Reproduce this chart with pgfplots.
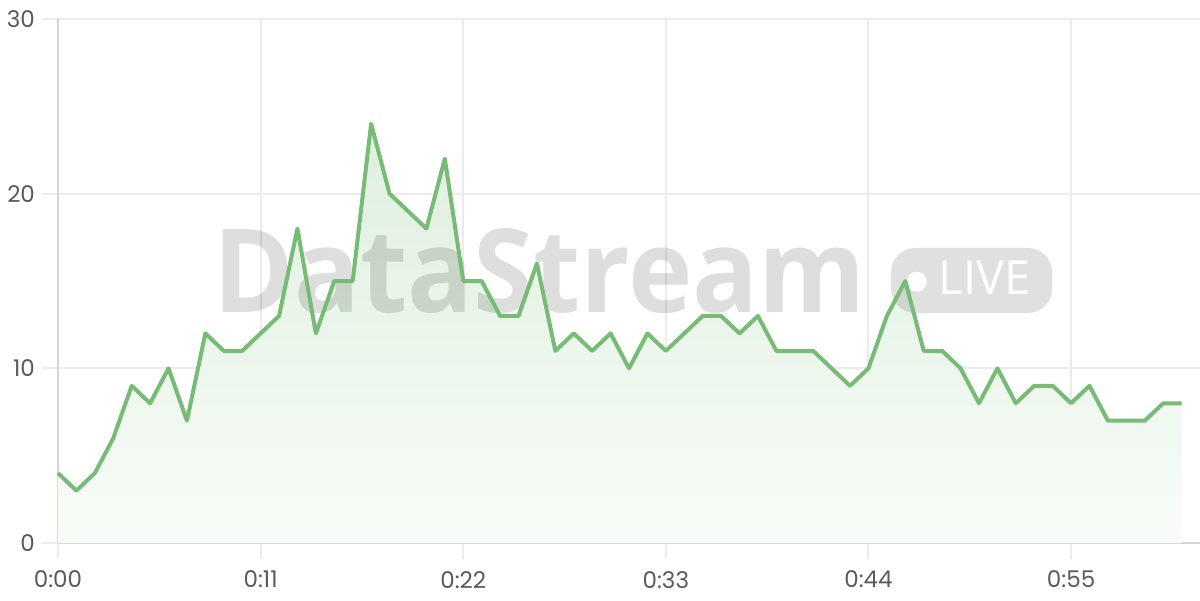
\documentclass[border=0pt]{standalone}
\usepackage{fontspec}
\setmainfont{Poppins}
\newfontfamily\wmfont{Open Sans}
\usepackage{pgfplots}
\usepackage{pgfplotstable}
\pgfplotsset{compat=1.18}
\usetikzlibrary{calc}
\definecolor{linegreen}{RGB}{119,187,119}
\definecolor{filltop}{RGB}{222,239,222}
\definecolor{fillbot}{RGB}{248,252,248}
\definecolor{gridc}{RGB}{235,235,235}
\definecolor{axisc}{RGB}{212,212,212}
\definecolor{labc}{RGB}{90,90,90}
\pgfplotstableread{
x y
0 4
1 3
2 4
3 6
4 9
5 8
6 10
7 7
8 12
9 11
10 11
11 12
12 13
13 18
14 12
15 15
16 15
17 24
18 20
19 19
20 18
21 22
22 15
23 15
24 13
25 13
26 16
27 11
28 12
29 11
30 12
31 10
32 12
33 11
34 12
35 13
36 13
37 12
38 13
39 11
40 11
41 11
42 10
43 9
44 10
45 13
46 15
47 11
48 11
49 10
50 8
51 10
52 8
53 9
54 9
55 8
56 9
57 7
58 7
59 7
60 8
61 8
}\datatable
\begin{document}
\begin{tikzpicture}
\begin{axis}[
  scale only axis, width=571pt, height=262pt,
  xmin=0, xmax=62, ymin=0, ymax=30,
  axis x line=bottom, axis y line=left,
  axis line style={-, draw=axisc, line width=1pt},
  xtick={0,11,22,33,44,55},
  xticklabels={0:00,0:11,0:22,0:33,0:44,0:55},
  ytick={0,10,20,30},
  grid=major, major grid style={draw=gridc, line width=1pt},
  tick align=outside, major tick length=8pt,
  tick style={draw=gridc, line width=1pt},
  ticklabel style={font=\fontsize{11.5}{13}\selectfont, text=labc},
  xticklabel style={yshift=-2.5pt},
  /pgf/number format/assume math mode=true,
  clip=false,
]
\addplot[draw=none, top color=filltop, bottom color=fillbot] table[x=x,y=y] {\datatable} \closedcycle;
\node[anchor=base, inner sep=0pt, text=black, opacity=0.13,
  font=\wmfont\bfseries\fontsize{58}{58}\selectfont] at (axis cs:26.14,13.17) {\scalebox{0.94}[1]{DataStream}};
\node[fill=black, fill opacity=0.12, rounded corners=12pt, minimum width=80.5pt,
  minimum height=32.5pt, inner sep=0pt] at (axis cs:49.6,15.03) {};
\fill[white] (axis cs:46.62,14.96) circle (5pt);
\node[anchor=base west, inner sep=0pt, text=white,
  font=\wmfont\fontsize{23.5}{24}\selectfont] at (axis cs:47.79,14.2) {LIVE};
\addplot[linegreen, line width=2pt, line join=round] table[x=x,y=y] {\datatable};
\end{axis}
\pgfresetboundingbox
\path[use as bounding box] ($(current axis.south west)+(-29pt,-28.5pt)$) rectangle ($(current axis.north east)+(0pt,9.5pt)$);
\end{tikzpicture}
\end{document}
